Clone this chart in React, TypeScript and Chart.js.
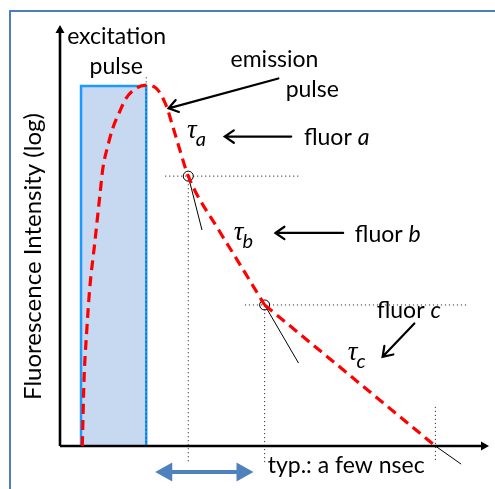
import { useEffect, useRef } from "react";
import { Chart, registerables } from "chart.js";

Chart.register(...registerables);

// ---- data (time in arbitrary ns-like units, intensity on log scale 0..10) ----
const emissionT = [0.52, 0.56, 0.62, 0.69, 0.81, 0.93, 1.0, 1.12, 1.23, 1.39, 1.54, 1.78, 2.01, 2.24, 2.47, 2.62, 2.78, 2.99, 3.7, 4.1, 4.77];
const emissionLogI = [0, 1.57, 2.68, 3.71, 4.82, 5.96, 6.6, 7.15, 7.55, 7.94, 8.26, 8.5, 8.57, 8.5, 8.1, 7.62, 7.08, 6.41, 5.13, 4.47, 3.35];
const tailT = [4.77, 8.75];
const tailLogI = [3.35, 0];

const pulseT = [0.49, 0.49, 2.01, 2.01];
const pulseLogI = [0, 8.55, 8.55, 0];

const knotT = [2.99, 4.77];
const knotLogI = [6.41, 3.35];

const tangentFromT = [2.99, 4.77, 8.75];
const tangentFromI = [6.41, 3.35, 0];
const tangentToT = [3.31, 5.56, 9.35];
const tangentToI = [5.13, 1.97, -0.43];

const guideFromT = [2.45, 2.99, 4.31, 4.77, 8.75, 2.01];
const guideFromI = [6.41, 6.41, 3.35, 3.35, 0.93, 8.76];
const guideToT = [5.56, 2.99, 9.49, 4.77, 8.75, 2.01];
const guideToI = [6.41, -0.4, 3.35, -0.4, -0.38, 0];

const arrowFromT = [5.09, 5.39, 6.6, 8.26];
const arrowFromI = [8.73, 7.35, 5.06, 2.91];
const arrowToT = [2.53, 3.84, 5.02, 7.52];
const arrowToI = [8.02, 7.35, 5.06, 2.12];

const spanT = [2.22, 4.51];
const spanI = -0.62;

const calloutText = ["excitation", "pulse", "emission", "pulse", "typ.: a few nsec"];
const calloutT = [1.32, 1.31, 5.0, 5.88, 6.67];
const calloutI = [9.54, 8.84, 9.0, 8.29, -0.65];

const fluorNames = ["a", "b", "c"];
const fluorT = [6.45, 7.64, 8.13];
const fluorI = [7.15, 4.85, 3.04];
const tauT = [2.96, 4.05, 6.71];
const tauI = [7.32, 4.89, 2.04];

const yTitle = "Fluorescence Intensity (log)";

const SANS = "Lato, 'Open Sans', sans-serif";
const SERIF = "'Liberation Serif', 'DejaVu Serif', serif";

function seg(t1: number, i1: number, t2: number, i2: number) {
  return [
    { x: t1, y: i1 },
    { x: t2, y: i2 },
  ];
}

function chevron(ctx: CanvasRenderingContext2D, x1: number, y1: number, x2: number, y2: number) {
  const a = Math.atan2(y2 - y1, x2 - x1);
  const L = 11;
  const w = 0.6;
  ctx.beginPath();
  ctx.moveTo(x1, y1);
  ctx.lineTo(x2, y2);
  ctx.moveTo(x2 - L * Math.cos(a - w), y2 - L * Math.sin(a - w));
  ctx.lineTo(x2, y2);
  ctx.lineTo(x2 - L * Math.cos(a + w), y2 - L * Math.sin(a + w));
  ctx.stroke();
}

function tri(ctx: CanvasRenderingContext2D, tipX: number, tipY: number, ang: number, L: number, hw: number) {
  const bx = tipX - L * Math.cos(ang);
  const by = tipY - L * Math.sin(ang);
  const nx = -Math.sin(ang);
  const ny = Math.cos(ang);
  ctx.beginPath();
  ctx.moveTo(tipX, tipY);
  ctx.lineTo(bx + nx * hw, by + ny * hw);
  ctx.lineTo(bx - nx * hw, by - ny * hw);
  ctx.closePath();
  ctx.fill();
}

const annotPlugin = {
  id: "annot",
  afterDraw(chart: any) {
    const ctx: CanvasRenderingContext2D = chart.ctx;
    const X = (v: number) => chart.scales.x.getPixelForValue(v);
    const Y = (v: number) => chart.scales.y.getPixelForValue(v);
    ctx.save();

    // frame
    ctx.strokeStyle = "#4a7ebf";
    ctx.lineWidth = 2;
    ctx.beginPath();
    ctx.moveTo(10, chart.height + 5);
    ctx.lineTo(10, 11);
    ctx.lineTo(chart.width + 5, 11);
    ctx.stroke();

    // axis arrowheads
    ctx.fillStyle = "#000";
    tri(ctx, X(10), Y(0), 0, 8, 4.5);
    tri(ctx, X(0), Y(10), -Math.PI / 2, 8, 4.5);

    // black arrows
    ctx.strokeStyle = "#000";
    ctx.lineWidth = 2.2;
    ctx.lineCap = "round";
    for (let i = 0; i < arrowFromT.length; i++) {
      chevron(ctx, X(arrowFromT[i]), Y(arrowFromI[i]), X(arrowToT[i]), Y(arrowToI[i]));
    }

    // blue double arrow
    const ya = Y(spanI);
    const xa1 = X(spanT[0]);
    const xa2 = X(spanT[1]);
    ctx.fillStyle = "#4f81bd";
    ctx.strokeStyle = "#4f81bd";
    ctx.lineWidth = 4;
    ctx.lineCap = "butt";
    ctx.beginPath();
    ctx.moveTo(xa1 + 10, ya);
    ctx.lineTo(xa2 - 10, ya);
    ctx.stroke();
    tri(ctx, xa1, ya, Math.PI, 17, 9.5);
    tri(ctx, xa2, ya, 0, 17, 9.5);

    // text
    ctx.fillStyle = "#000";
    ctx.textBaseline = "alphabetic";
    ctx.textAlign = "center";
    ctx.font = `23px ${SANS}`;
    for (let i = 0; i < calloutText.length; i++) {
      ctx.fillText(calloutText[i], X(calloutT[i]), Y(calloutI[i]));
    }

    // fluor labels
    ctx.textAlign = "left";
    for (let i = 0; i < fluorNames.length; i++) {
      ctx.font = `23px ${SANS}`;
      const w1 = ctx.measureText("fluor ").width;
      ctx.font = `italic 23px ${SANS}`;
      const w2 = ctx.measureText(fluorNames[i]).width;
      const x0 = X(fluorT[i]) - (w1 + w2) / 2;
      const y0 = Y(fluorI[i]);
      ctx.font = `23px ${SANS}`;
      ctx.fillText("fluor ", x0, y0);
      ctx.font = `italic 23px ${SANS}`;
      ctx.fillText(fluorNames[i], x0 + w1, y0);
    }

    // tau symbols
    for (let i = 0; i < fluorNames.length; i++) {
      const x0 = X(tauT[i]);
      const y0 = Y(tauI[i]);
      ctx.font = `italic 27px ${SERIF}`;
      ctx.fillText("τ", x0, y0);
      const w = ctx.measureText("τ").width;
      ctx.font = `italic 20px ${SANS}`;
      ctx.fillText(fluorNames[i], x0 + w - 1, y0 + 8);
    }

    // y title
    ctx.save();
    ctx.translate(chart.chartArea.left - 19, Y(4.5));
    ctx.rotate(-Math.PI / 2);
    ctx.textAlign = "center";
    ctx.font = `24px ${SANS}`;
    ctx.fillText(yTitle, 0, 0);
    ctx.restore();

    ctx.restore();
  },
};

export default function App() {
  const ref = useRef<HTMLCanvasElement>(null);
  useEffect(() => {
    const base = { pointRadius: 0, tension: 0, fill: false, clip: false as any, borderCapStyle: "butt" as const };
    const datasets: any[] = [];

    datasets.push({
      ...base,
      label: "emission",
      data: emissionT.map((t, i) => ({ x: t, y: emissionLogI[i] })),
      borderColor: "#ff0000",
      borderWidth: 3.2,
      borderDash: [10, 6],
      cubicInterpolationMode: "monotone",
    });
    datasets.push({
      ...base,
      label: "emission tail",
      data: tailT.map((t, i) => ({ x: t, y: tailLogI[i] })),
      borderColor: "#ff0000",
      borderWidth: 3.2,
      borderDash: [10, 6],
    });
    datasets.push({
      label: "knots",
      data: knotT.map((t, i) => ({ x: t, y: knotLogI[i] })),
      showLine: false,
      pointRadius: 5,
      pointBorderWidth: 1,
      pointBorderColor: "#000",
      pointBackgroundColor: "rgba(0,0,0,0)",
      clip: false,
    });
    tangentFromT.forEach((t, i) => {
      datasets.push({
        ...base,
        label: "tangent" + i,
        data: seg(t, tangentFromI[i], tangentToT[i], tangentToI[i]),
        borderColor: "#000",
        borderWidth: 1,
      });
    });
    datasets.push({
      ...base,
      label: "x axis",
      data: seg(0, 0, 9.9, 0),
      borderColor: "#000",
      borderWidth: 2.6,
    });
    datasets.push({
      ...base,
      label: "y axis",
      data: seg(0, 0, 0, 9.9),
      borderColor: "#000",
      borderWidth: 2.6,
    });
    guideFromT.forEach((t, i) => {
      datasets.push({
        ...base,
        label: "guide" + i,
        data: seg(t, guideFromI[i], guideToT[i], guideToI[i]),
        borderColor: "#333",
        borderWidth: 1,
        borderDash: [1.2, 2.8],
      });
    });
    datasets.push({
      ...base,
      label: "excitation pulse",
      data: pulseT.map((t, i) => ({ x: t, y: pulseLogI[i] })),
      borderColor: "#1c9bff",
      borderWidth: 2.5,
      backgroundColor: "#c6d9f0",
      fill: "origin",
      borderJoinStyle: "miter",
    });

    const chart = new Chart(ref.current!, {
      type: "line",
      data: { datasets },
      options: {
        animation: false,
        responsive: false,
        events: [],
        layout: { padding: { left: 60, right: 3, top: 25, bottom: 43 } },
        scales: {
          x: { type: "linear", min: 0, max: 10, display: false },
          y: { type: "linear", min: 0, max: 10, display: false },
        },
        plugins: { legend: { display: false }, tooltip: { enabled: false } },
      },
      plugins: [annotPlugin],
    });
    return () => chart.destroy();
  }, []);

  return (
    <div style={{ position: "absolute", left: 0, top: 0, width: 495, height: 489, background: "#fff" }}>
      <canvas ref={ref} width={495} height={489} style={{ display: "block" }} />
    </div>
  );
}
